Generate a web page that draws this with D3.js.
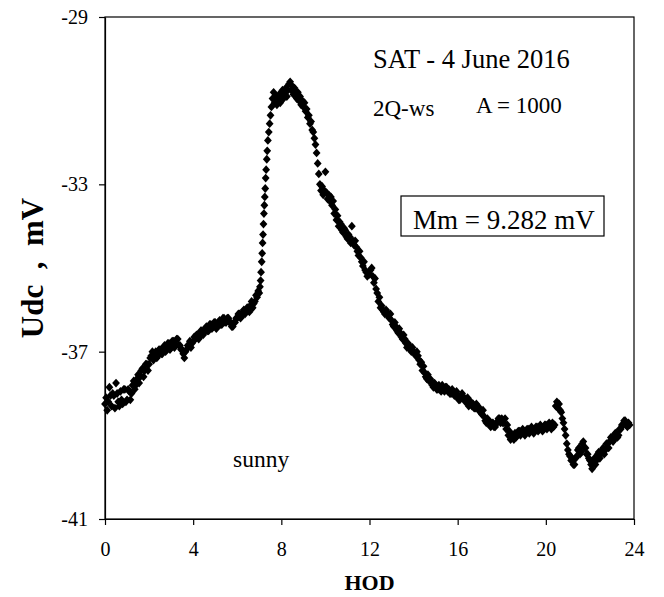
<!DOCTYPE html>
<html>
<head>
<meta charset="utf-8">
<script src="https://cdn.jsdelivr.net/npm/d3@7"></script>
<style>
  body { margin: 0; background: #fff; }
  svg, svg text { font-family: "Liberation Serif", "Times New Roman", Times, serif; }
</style>
</head>
<body>
<div id="chart"></div>
<script>
const width = 664,
    height = 597,
    margin = ({ top: 17, right: 30, bottom: 78, left: 105 });

// hour of day
const hod = [
  0, 0.05, 0.1, 0.15, 0.2, 0.25, 0.3, 0.35, 0.4, 0.45, 0.5, 0.55, 0.6, 0.65, 0.7, 0.75, 0.8, 0.85, 0.9, 0.95,
  1, 1.05, 1.1, 1.15, 1.2, 1.25, 1.3, 1.35, 1.4, 1.45, 1.5, 1.55, 1.6, 1.65, 1.7, 1.75, 1.8, 1.85, 1.9, 1.95,
  2, 2.05, 2.1, 2.15, 2.2, 2.25, 2.3, 2.35, 2.4, 2.45, 2.5, 2.55, 2.6, 2.65, 2.7, 2.75, 2.8, 2.85, 2.9, 2.95,
  3, 3.05, 3.1, 3.15, 3.2, 3.25, 3.3, 3.35, 3.4, 3.45, 3.5, 3.55, 3.6, 3.65, 3.7, 3.75, 3.8, 3.85, 3.9, 3.95,
  4, 4.05, 4.1, 4.15, 4.2, 4.25, 4.3, 4.35, 4.4, 4.45, 4.5, 4.55, 4.6, 4.65, 4.7, 4.75, 4.8, 4.85, 4.9, 4.95,
  5, 5.05, 5.1, 5.15, 5.2, 5.25, 5.3, 5.35, 5.4, 5.45, 5.5, 5.55, 5.6, 5.65, 5.7, 5.75, 5.8, 5.85, 5.9, 5.95,
  6, 6.05, 6.1, 6.15, 6.2, 6.25, 6.3, 6.35, 6.4, 6.45, 6.5, 6.55, 6.6, 6.65, 6.7, 6.75, 6.8, 6.85, 6.9, 6.95,
  7, 7.03, 7.06, 7.08, 7.11, 7.13, 7.15, 7.17, 7.19, 7.21,
  7.23, 7.25, 7.27, 7.29, 7.31, 7.34, 7.36, 7.39, 7.43, 7.47,
  7.51, 7.55, 7.6, 7.65, 7.7, 7.75, 7.8, 7.85, 7.9, 7.95,
  8, 8.05, 8.1, 8.15, 8.2, 8.25, 8.3, 8.35, 8.4, 8.45, 8.5, 8.55, 8.6, 8.65, 8.7, 8.75, 8.8, 8.85, 8.9, 8.95,
  9, 9.05, 9.1, 9.15, 9.2, 9.25, 9.3, 9.35, 9.4, 9.45, 9.5, 9.55, 9.6, 9.65, 9.7, 9.75, 9.8, 9.85, 9.9, 9.95,
  10, 10.05, 10.1, 10.15, 10.2, 10.25, 10.3, 10.35, 10.4, 10.45, 10.5, 10.55, 10.6, 10.65, 10.7, 10.75, 10.8, 10.85, 10.9, 10.95,
  11, 11.05, 11.1, 11.15, 11.2, 11.25, 11.3, 11.35, 11.4, 11.45, 11.5, 11.55, 11.6, 11.65, 11.7, 11.75, 11.8, 11.85, 11.9, 11.95,
  12, 12.05, 12.1, 12.15, 12.2, 12.25, 12.3, 12.35, 12.4, 12.45, 12.5, 12.55, 12.6, 12.65, 12.7, 12.75, 12.8, 12.85, 12.9, 12.95,
  13, 13.05, 13.1, 13.15, 13.2, 13.25, 13.3, 13.35, 13.4, 13.45, 13.5, 13.55, 13.6, 13.65, 13.7, 13.75, 13.8, 13.85, 13.9, 13.95,
  14, 14.05, 14.1, 14.15, 14.2, 14.25, 14.3, 14.35, 14.4, 14.45, 14.5, 14.55, 14.6, 14.65, 14.7, 14.75, 14.8, 14.85, 14.9, 14.95,
  15, 15.05, 15.1, 15.15, 15.2, 15.25, 15.3, 15.35, 15.4, 15.45, 15.5, 15.55, 15.6, 15.65, 15.7, 15.75, 15.8, 15.85, 15.9, 15.95,
  16, 16.05, 16.1, 16.15, 16.2, 16.25, 16.3, 16.35, 16.4, 16.45, 16.5, 16.55, 16.6, 16.65, 16.7, 16.75, 16.8, 16.85, 16.9, 16.95,
  17, 17.05, 17.1, 17.15, 17.2, 17.25, 17.3, 17.35, 17.4, 17.45, 17.5, 17.55, 17.6, 17.65, 17.7, 17.75, 17.8, 17.85, 17.9, 17.95,
  18, 18.05, 18.1, 18.15, 18.2, 18.25, 18.3, 18.35, 18.4, 18.45, 18.5, 18.55, 18.6, 18.65, 18.7, 18.75, 18.8, 18.85, 18.9, 18.95,
  19, 19.05, 19.1, 19.15, 19.2, 19.25, 19.3, 19.35, 19.4, 19.45, 19.5, 19.55, 19.6, 19.65, 19.7, 19.75, 19.8, 19.85, 19.9, 19.95,
  20, 20.05, 20.1, 20.15, 20.2, 20.25, 20.3, 20.35, 20.4, 20.45, 20.5, 20.55, 20.6, 20.65, 20.7, 20.75, 20.8, 20.85, 20.9, 20.95,
  21, 21.05, 21.1, 21.15, 21.2, 21.25, 21.3, 21.35, 21.4, 21.45, 21.5, 21.55, 21.6, 21.65, 21.7, 21.75, 21.8, 21.85, 21.9, 21.95,
  22, 22.05, 22.1, 22.15, 22.2, 22.25, 22.3, 22.35, 22.4, 22.45, 22.5, 22.55, 22.6, 22.65, 22.7, 22.75, 22.8, 22.85, 22.9, 22.95,
  23, 23.05, 23.1, 23.15, 23.2, 23.25, 23.3, 23.35, 23.4, 23.45, 23.5, 23.55, 23.6, 23.65, 23.7, 23.75, 23.8
];

// Udc, mV
const udc = [
  -38.25, -38.1, -38.4, -38.2, -37.85, -38.05, -38.3, -38.0, -38.05, -38.35, -37.75, -38.0, -38.2, -38.3, -37.95, -38.15, -38.25, -37.9, -37.9, -38.2,
  -38.15, -37.9, -37.95, -38.15, -38.0, -37.8, -37.7, -37.9, -37.8, -37.65, -37.55, -37.75, -37.6, -37.45, -37.4, -37.6, -37.45, -37.3, -37.3, -37.45,
  -37.3, -37.15, -37.1, -37.0, -37.2, -37.05, -37.0, -37.15, -37.1, -36.95, -36.95, -37.05, -37.05, -36.9, -36.85, -37.0, -36.95, -36.8, -36.8, -36.95,
  -36.9, -36.75, -36.75, -36.9, -36.85, -36.7, -36.7, -36.85, -36.85, -36.95, -36.95, -37.05, -37.15, -37.0, -36.95, -36.85, -36.85, -36.75, -36.9, -36.8,
  -36.75, -36.65, -36.7, -36.6, -36.6, -36.7, -36.65, -36.5, -36.5, -36.6, -36.55, -36.45, -36.4, -36.5, -36.5, -36.35, -36.35, -36.45, -36.4, -36.3,
  -36.3, -36.45, -36.4, -36.3, -36.25, -36.35, -36.35, -36.2, -36.2, -36.3, -36.3, -36.2, -36.2, -36.3, -36.3, -36.4, -36.4, -36.3, -36.3, -36.2,
  -36.2, -36.1, -36.1, -36.2, -36.15, -36.05, -36.0, -36.1, -36.05, -35.95, -35.95, -36.05, -35.9, -35.8, -35.95, -35.85, -35.8, -35.65, -35.7, -35.55,
  -35.6, -35.45, -35.3, -35.1, -34.85, -34.65, -34.4, -34.2, -33.95, -33.7,
  -33.5, -33.3, -33.1, -32.85, -32.65, -32.4, -32.2, -31.95, -31.75, -31.55,
  -31.35, -31.15, -30.95, -30.8, -31.05, -30.9, -31.1, -30.95, -30.85, -31.05,
  -30.85, -30.75, -30.95, -30.8, -30.7, -30.9, -30.75, -30.6, -30.55, -30.75, -30.65, -30.85, -30.7, -30.8, -30.95, -30.8, -31.0, -30.9, -31.1, -31.0,
  -31.15, -31.05, -31.25, -31.2, -31.4, -31.35, -31.55, -31.5, -31.7, -31.75, -31.9, -32.05, -32.25, -32.5, -32.75, -33.0, -33.15, -33.05, -33.25, -33.15,
  -32.7, -33.2, -33.35, -33.25, -33.4, -33.3, -33.5, -33.4, -33.7, -33.6, -33.85, -33.75, -34.0, -33.9, -33.95, -34.1, -34.15, -34.05, -34.1, -34.25,
  -34.3, -34.2, -34.25, -34.4, -34.0, -34.35, -34.45, -34.35, -34.5, -34.6, -34.7, -34.6, -34.75, -34.85, -34.95, -34.85, -35.05, -35.1, -35.2, -35.1,
  -35.15, -35.05, -35.0, -35.2, -35.35, -35.25, -35.5, -35.6, -35.8, -35.7, -35.95, -35.9, -36.0, -36.05, -36.1, -36.0, -36.05, -36.15, -36.2, -36.1,
  -36.25, -36.35, -36.4, -36.3, -36.4, -36.5, -36.55, -36.45, -36.55, -36.65, -36.7, -36.6, -36.7, -36.8, -36.9, -36.8, -36.85, -36.95, -37.0, -36.9,
  -37.0, -37.05, -37.1, -37.0, -37.1, -37.2, -37.3, -37.25, -37.45, -37.35, -37.5, -37.6, -37.65, -37.55, -37.7, -37.65, -37.7, -37.8, -37.85, -37.75,
  -37.8, -37.9, -37.9, -37.8, -37.85, -37.95, -37.8, -37.9, -37.95, -37.85, -37.85, -37.95, -37.9, -38.0, -38.0, -37.9, -37.95, -38.05, -38.05, -37.95,
  -38.05, -38.15, -38.15, -38.05, -38.0, -38.1, -38.1, -38.2, -38.2, -38.1, -38.3, -38.2, -38.2, -38.3, -38.25, -38.35, -38.35, -38.25, -38.3, -38.4,
  -38.35, -38.45, -38.5, -38.4, -38.55, -38.65, -38.7, -38.6, -38.65, -38.75, -38.8, -38.7, -38.7, -38.8, -38.8, -38.7, -38.7, -38.6, -38.6, -38.7,
  -38.6, -38.7, -38.7, -38.6, -38.85, -38.75, -39.0, -38.9, -39.1, -39.0, -39.0, -39.1, -38.95, -39.05, -39.0, -38.9, -38.9, -39.0, -38.95, -38.85,
  -38.9, -39.0, -38.95, -38.85, -38.85, -38.95, -38.9, -38.8, -38.85, -38.95, -38.9, -38.8, -38.8, -38.9, -38.85, -38.75, -38.8, -38.9, -38.85, -38.75,
  -38.75, -38.85, -38.8, -38.7, -38.75, -38.85, -38.7, -38.8, -38.75, -38.3, -38.2, -38.35, -38.25, -38.4, -38.45, -38.6, -38.7, -38.85, -39.0, -39.2,
  -39.35, -39.45, -39.5, -39.6, -39.55, -39.7, -39.7, -39.55, -39.5, -39.35, -39.3, -39.45, -39.4, -39.2, -39.15, -39.3, -39.3, -39.45, -39.45, -39.55,
  -39.6, -39.7, -39.8, -39.65, -39.55, -39.7, -39.6, -39.45, -39.4, -39.55, -39.45, -39.35, -39.3, -39.45, -39.35, -39.2, -39.2, -39.3, -39.15, -39.05,
  -39.05, -39.15, -39.1, -38.95, -38.95, -39.05, -39.0, -38.85, -38.85, -38.75, -38.75, -38.65, -38.65, -38.75, -38.8, -38.7, -38.75
];

const xTicks = [0, 4, 8, 12, 16, 20, 24];
const yTicks = [-41, -37, -33, -29];

const serif = "Liberation Serif, Times New Roman, Times, serif";

const svg = d3.select("#chart")
    .append("svg")
    .attr("width", width)
    .attr("height", height)
    .attr("font-family", serif);

const x = d3.scaleLinear()
    .domain([0, 24])
    .range([margin.left, width - margin.right]);

const y = d3.scaleLinear()
    .domain([-41, -29])
    .range([height - margin.bottom, margin.top]);

// frame
svg.append("rect")
    .attr("x", margin.left)
    .attr("y", margin.top)
    .attr("width", width - margin.right - margin.left)
    .attr("height", height - margin.bottom - margin.top)
    .attr("fill", "none")
    .attr("stroke", "#000")
    .attr("stroke-width", 1.2);

const yAxis = svg.append("g")
    .attr("transform", `translate(${margin.left},0)`)
    .call(d3.axisLeft(y).tickValues(yTicks).tickSize(6).tickSizeOuter(0).tickPadding(11));

const xAxis = svg.append("g")
    .attr("transform", `translate(0,${height - margin.bottom})`)
    .call(d3.axisBottom(x).tickValues(xTicks).tickSize(6).tickSizeOuter(0).tickPadding(17));

for (let g of [xAxis, yAxis]) {
    g.attr("font-family", serif).attr("font-size", 20);
    g.selectAll("path, line").attr("stroke", "#000").attr("stroke-width", 1.2);
    g.selectAll("text").attr("fill", "#000");
}
yAxis.selectAll("text").text(d => String(d)); // plain hyphen minus

// axis titles
svg.append("text")
    .attr("x", (margin.left + width - margin.right) / 2)
    .attr("y", 590)
    .attr("text-anchor", "middle")
    .attr("font-weight", "bold")
    .attr("font-size", 22)
    .text("HOD");

svg.append("text")
    .attr("transform", `translate(43,${(margin.top + height - margin.bottom) / 2}) rotate(-90)`)
    .attr("text-anchor", "middle")
    .attr("font-weight", "bold")
    .attr("font-size", 31)
    .style("white-space", "pre")
    .text("Udc  ,  mV");

// points
const diamond = "M0,-4.4L3.9,0L0,4.4L-3.9,0Z";
svg.append("g")
    .selectAll("path")
    .data(d3.zip(hod, udc))
    .join("path")
    .attr("transform", d => `translate(${x(d[0])},${y(d[1])})`)
    .attr("d", diamond)
    .attr("fill", "#000");

// annotations
svg.append("text").attr("x", 373).attr("y", 68).attr("font-size", 26.5).text("SAT - 4 June 2016");
svg.append("text").attr("x", 373).attr("y", 116).attr("font-size", 23).text("2Q-ws");
svg.append("text").attr("x", 476).attr("y", 113).attr("font-size", 23).text("A = 1000");
svg.append("text").attr("x", 233).attr("y", 467).attr("font-size", 23.5).text("sunny");

svg.append("rect")
    .attr("x", 401).attr("y", 196)
    .attr("width", 203).attr("height", 40)
    .attr("fill", "#fff")
    .attr("stroke", "#000")
    .attr("stroke-width", 1.2);
svg.append("text").attr("x", 413).attr("y", 229).attr("font-size", 27).text("Mm = 9.282 mV");
</script>
</body>
</html>
